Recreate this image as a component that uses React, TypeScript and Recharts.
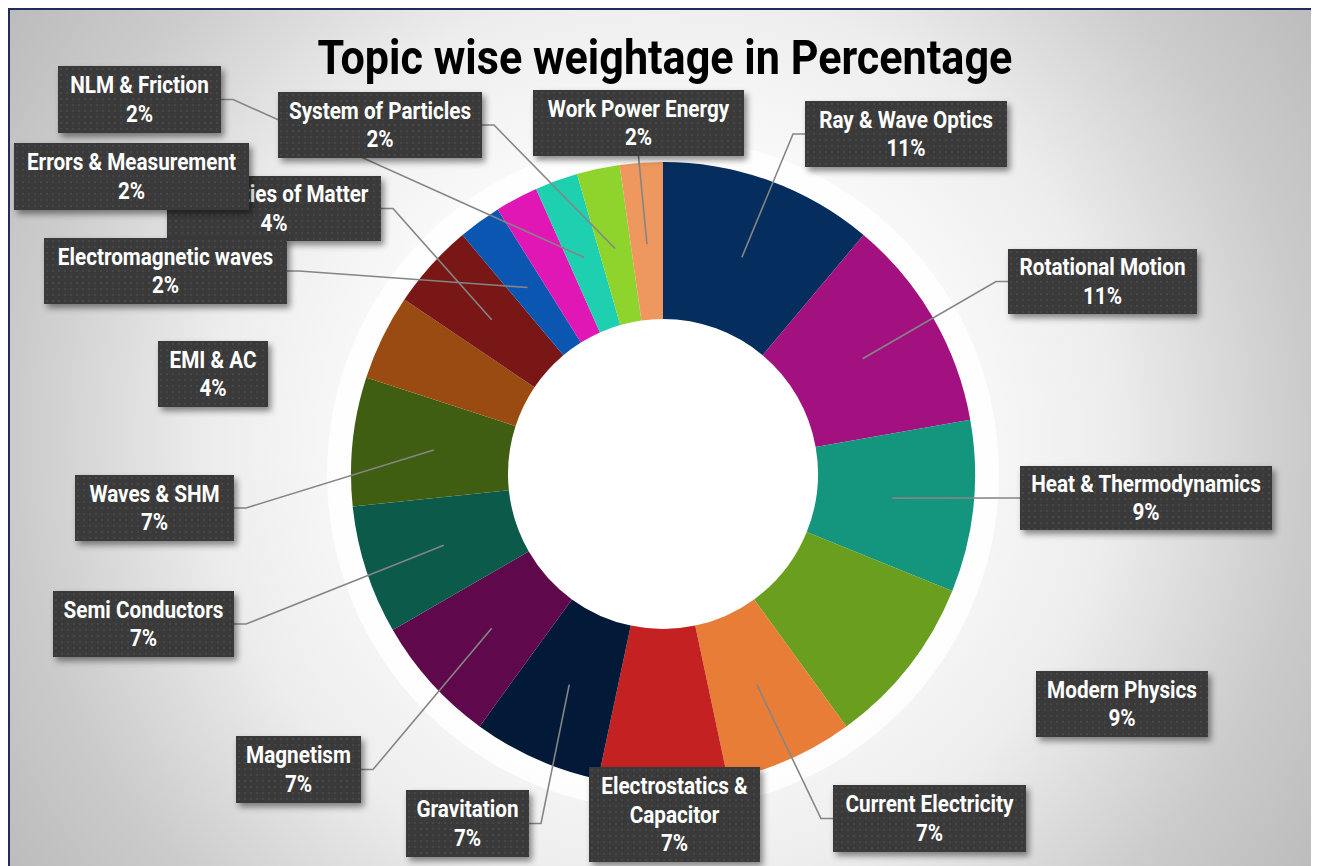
import { PieChart, Pie, Cell } from 'recharts'

const topics = [
  'Ray & Wave Optics',
  'Rotational Motion',
  'Heat & Thermodynamics',
  'Modern Physics',
  'Current Electricity',
  'Electrostatics & Capacitor',
  'Gravitation',
  'Magnetism',
  'Semi Conductors',
  'Waves & SHM',
  'EMI & AC',
  'Properties of Matter',
  'Electromagnetic waves',
  'Errors & Measurement',
  'NLM & Friction',
  'System of Particles',
  'Work Power Energy',
]

// number of questions per topic (percent labels come from these)
const questions = [5, 5, 4, 4, 3, 3, 3, 3, 3, 3, 2, 2, 1, 1, 1, 1, 1]

const colors = [
  '#052d5d', '#a3107f', '#13957e', '#6a9e1f', '#e87d38', '#c42222',
  '#021a38', '#5f084b', '#0b5a4a', '#3f5e12', '#9a4b12', '#791616',
  '#0b56b0', '#e117b5', '#1fd0b0', '#8ed42d', '#ee985f',
]

const data = topics.map((name, i) => ({ name, value: questions[i] }))

// label box placement (page px) and where the leader line leaves the box
type Side = 'left' | 'right' | 'bottom' | 'none'
const boxes: { x: number; y: number; w: number; h: number; side: Side; wrap?: number }[] = [
  { x: 805, y: 101, w: 202, h: 66, side: 'left' },
  { x: 1008, y: 249, w: 189, h: 65, side: 'left' },
  { x: 1020, y: 466, w: 252, h: 64, side: 'left' },
  { x: 1036, y: 671, w: 172, h: 66, side: 'none' },
  { x: 833, y: 785, w: 193, h: 67, side: 'left' },
  { x: 589, y: 767, w: 171, h: 95, side: 'none', wrap: 2 },
  { x: 406, y: 790, w: 123, h: 67, side: 'right' },
  { x: 236, y: 736, w: 125, h: 67, side: 'right' },
  { x: 53, y: 591, w: 181, h: 66, side: 'right' },
  { x: 75, y: 475, w: 159, h: 66, side: 'right' },
  { x: 158, y: 341, w: 110, h: 66, side: 'none' },
  { x: 167, y: 176, w: 214, h: 65, side: 'right' },
  { x: 44, y: 238, w: 243, h: 66, side: 'right' },
  { x: 14, y: 143, w: 235, h: 67, side: 'none' },
  { x: 58, y: 66, w: 163, h: 67, side: 'right' },
  { x: 278, y: 92, w: 204, h: 66, side: 'right' },
  { x: 533, y: 90, w: 211, h: 66, side: 'bottom' },
]

// faint watermark bits peeking above the frame (page x, width, colour)
const marks = [
  { x: 345, w: 12, c: '#fbd6dc' },
  { x: 418, w: 12, c: '#f9ccd2' },
  { x: 441, w: 214, c: '#dfe5fa' },
  { x: 655, w: 227, c: '#e9effc' },
  { x: 899, w: 84, c: '#fbd5d8' },
]

const OFF = 10 // page -> chart coords
const FONT = "Roboto, 'Liberation Sans', sans-serif"
const RAD = Math.PI / 180
const SQUEEZE = 0.9

const renderLabel = (p: any) => {
  const b = boxes[p.index]
  const x = b.x - OFF
  const y = b.y - OFF
  const r = (p.innerRadius + p.outerRadius) / 2 - 3
  const tx = p.cx + r * Math.cos(-p.midAngle * RAD)
  const ty = p.cy + r * Math.sin(-p.midAngle * RAD)
  let d = ''
  if (b.side === 'left') d = `M${x},${y + b.h / 2} L${x - 12},${y + b.h / 2} L${tx},${ty}`
  if (b.side === 'right') d = `M${x + b.w},${y + b.h / 2} L${x + b.w + 12},${y + b.h / 2} L${tx},${ty}`
  if (b.side === 'bottom') d = `M${x + b.w / 2},${y + b.h} L${tx},${ty}`

  const words = String(p.name).split(' ')
  const lines = b.wrap ? [words.slice(0, b.wrap).join(' '), words.slice(b.wrap).join(' ')] : [String(p.name)]
  lines.push(`${Math.round(p.percent * 100)}%`)
  const step = 28.5
  const top = y + (b.h - lines.length * step) / 2 + 22.5

  return (
    <g key={`lbl-${p.index}`}>
      <defs>
        <pattern id={`dots${p.index}`} width={6} height={6} patternUnits="userSpaceOnUse" x={x} y={y}>
          <rect width={6} height={6} fill="#3a3a3a" />
          <circle cx={3} cy={3} r={1} fill="#4a4a4a" />
        </pattern>
      </defs>
      {d && <path d={d} fill="none" stroke="#858585" strokeWidth={1.6} />}
      <rect x={x} y={y} width={b.w} height={b.h} fill={`url(#dots${p.index})`}
        style={{ filter: 'drop-shadow(3px 4px 3px rgba(0,0,0,0.45))' }} />
      <text textAnchor="middle" fill="#ffffff" fontFamily={FONT} fontWeight="bold" fontSize={23}
        transform={`translate(${x + b.w / 2},0) scale(${SQUEEZE},1)`}>
        {lines.map((t, i) => (
          <tspan key={i} x={0} y={top + i * step}>{t}</tspan>
        ))}
      </text>
    </g>
  )
}

const CX = 663 - OFF
const CY = 474 - OFF

export default function App() {
  return (
    <div style={{ position: 'relative' }}>
      <style>{'body{overflow:hidden}'}</style>
      {marks.map((m) => (
        <div key={m.x} style={{ position: 'absolute', left: m.x - 8, top: -8, width: m.w, height: 7, background: m.c }} />
      ))}
      <div style={{
        position: 'relative', width: 1306, height: 858, boxSizing: 'border-box',
        borderTop: '2px solid #1c2f5c', borderLeft: '2px solid #1c2f5c', borderRight: '2px solid #1c2f5c',
        background: 'radial-gradient(circle farthest-corner at 50% 50%, #ffffff 0%, #fbfbfb 35%, #ededed 58%, #cccccc 82%, #bcbcbc 100%)',
        overflow: 'hidden',
      }}>
        {/* soft white glow hugging the ring */}
        <div style={{
          position: 'absolute', left: CX - 336, top: CY - 336, width: 672, height: 672, borderRadius: '50%',
          background: 'radial-gradient(circle, rgba(255,255,255,0.85) 0%, rgba(255,255,255,0.85) 92%, rgba(255,255,255,0.35) 96%, rgba(255,255,255,0) 100%)',
        }} />
        {/* hole shading */}
        <div style={{
          position: 'absolute', left: CX - 156, top: CY - 156, width: 312, height: 312, borderRadius: '50%',
          background: 'radial-gradient(circle, #ffffff 0%, #ffffff 84%, #e4e4e4 100%)',
        }} />
        <div style={{
          position: 'absolute', left: 0, top: 21, width: 1306, paddingLeft: 4, boxSizing: 'border-box',
          textAlign: 'center', fontFamily: FONT, fontWeight: 'bold', fontSize: 49, lineHeight: '54px', color: '#000',
        }}>
          <span style={{ display: 'inline-block', transform: 'scaleX(0.88)', transformOrigin: 'center' }}>
            Topic wise weightage in Percentage
          </span>
        </div>
        <div style={{ position: 'absolute', left: 0, top: 0 }}>
          <PieChart width={1302} height={856} margin={{ top: 0, right: 0, bottom: 0, left: 0 }}>
            <Pie data={data} dataKey="value" nameKey="name" cx={CX} cy={CY}
              innerRadius={155} outerRadius={312} startAngle={90} endAngle={-270}
              stroke="none" isAnimationActive={false} label={renderLabel} labelLine={false}>
              {data.map((d, i) => <Cell key={d.name} fill={colors[i]} />)}
            </Pie>
          </PieChart>
        </div>
      </div>
    </div>
  )
}
